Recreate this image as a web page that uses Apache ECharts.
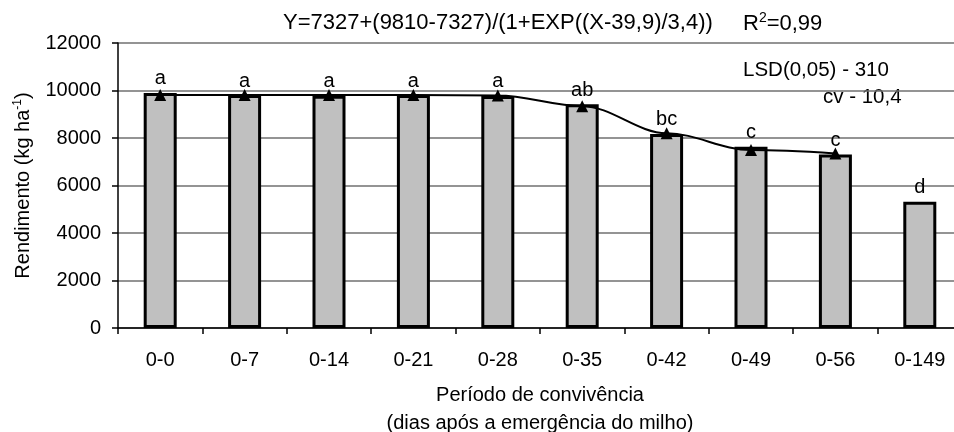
<!DOCTYPE html>
<html><head><meta charset="utf-8">
<script src="https://cdn.jsdelivr.net/npm/echarts@6/dist/echarts.min.js"></script>
<style>html,body{margin:0;padding:0;background:#fff}#c{width:954px;height:432px}</style>
</head><body><div id="c"></div>
<script>
var categories = ['0-0','0-7','0-14','0-21','0-28','0-35','0-42','0-49','0-56','0-149'];
var barValues = [9900, 9810, 9780, 9810, 9770, 9420, 8170, 7630, 7310, 5320];
var fitValues = [9810, 9810, 9810, 9810, 9790, 9340, 8200, 7490, 7350, null];
var letters = ['a','a','a','a','a','ab','bc','c','c','d'];
var yTicks = {min: 0, max: 12000, interval: 2000};

var F = 'Liberation Sans, Arial, sans-serif';
var chart = echarts.init(document.getElementById('c'), null, {renderer: 'canvas'});
chart.setOption({
  animation: false,
  backgroundColor: '#fff',
  textStyle: {fontFamily: F, color: '#000'},
  graphic: [
    {type: 'text', left: 283, top: 12, style: {text: 'Y=7327+(9810-7327)/(1+EXP((X-39,9)/3,4))', font: '22px ' + F, fill: '#000'}},
    {type: 'text', left: 743, top: 11, style: {
      text: '{a|R}{s|2}{a|=0,99}',
      rich: {
        a: {fontFamily: F, fontSize: 22, fill: '#000', verticalAlign: 'bottom', lineHeight: 24},
        s: {fontFamily: F, fontSize: 14, fill: '#000', verticalAlign: 'top', lineHeight: 24, padding: [0,0,12,0]}
      }}},
    {type: 'text', left: 743, top: 60, style: {text: 'LSD(0,05) - 310', font: '20.5px ' + F, fill: '#000'}},
    {type: 'text', left: 823, top: 87, style: {text: 'cv - 10,4', font: '20.5px ' + F, fill: '#000'}}
  ],
  grid: {left: 118, right: -8, top: 43, bottom: 104, containLabel: false, outerBoundsMode: 'none'},
  xAxis: {
    type: 'category', data: categories,
    axisLine: {lineStyle: {color: '#000', width: 1.5}},
    axisTick: {show: true, length: 6, lineStyle: {color: '#000', width: 1.5}},
    axisLabel: {fontSize: 20, color: '#000', margin: 22, fontFamily: F},
    name: 'Período de convivência\n(dias após a emergência do milho)',
    nameLocation: 'middle', nameGap: 53,
    nameTextStyle: {fontFamily: F, fontSize: 20, color: '#000', lineHeight: 28}
  },
  yAxis: {
    type: 'value', min: yTicks.min, max: yTicks.max, interval: yTicks.interval,
    axisLine: {show: true, lineStyle: {color: '#000', width: 1.5}},
    axisTick: {show: true, length: 6, lineStyle: {color: '#000', width: 1.5}},
    axisLabel: {fontSize: 20, color: '#000', margin: 17, fontFamily: F,
      formatter: function (v) { return String(v); }},
    splitLine: {lineStyle: {color: '#707070', width: 1.5}},
    name: '{a|Rendimento (kg ha}{s|-1}{a|)}',
    nameLocation: 'middle', nameRotate: 90, nameGap: 84,
    nameTextStyle: {rich: {
      a: {fontFamily: F, fontSize: 20, color: '#000', verticalAlign: 'bottom', lineHeight: 22},
      s: {fontFamily: F, fontSize: 12, color: '#000', verticalAlign: 'top', lineHeight: 22, padding: [0,0,11,0]}
    }}
  },
  series: [
    {
      type: 'bar', data: barValues, barWidth: 33,
      itemStyle: {color: '#c0c0c0', borderColor: '#000', borderWidth: 3},
      label: {show: true, position: 'top', distance: 4, fontSize: 20, color: '#000', fontFamily: F,
        formatter: function (p) { return letters[p.dataIndex]; }},
      z: 2
    },
    {
      type: 'line', data: fitValues, smooth: 0.35, smoothMonotone: 'x',
      symbol: 'triangle', symbolSize: 12, showAllSymbol: true,
      lineStyle: {color: '#000', width: 2},
      itemStyle: {color: '#000'},
      z: 5
    }
  ]
});
</script></body></html>
